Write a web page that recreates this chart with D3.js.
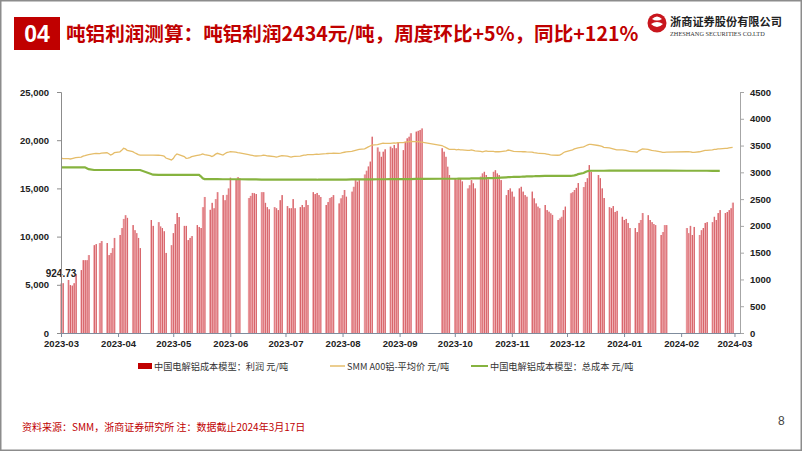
<!DOCTYPE html>
<html>
<head>
<meta charset="utf-8">
<script src="https://cdn.jsdelivr.net/npm/d3@7"></script>
<style>
  html, body { margin: 0; padding: 0; background: #fff; }
  svg { display: block; }
  text { font-family: "Noto Sans CJK SC", "Liberation Sans", sans-serif; }
</style>
</head>
<body>
<div id="chart"></div>
<script>
// trading days: weekdays from first to last day, minus these holidays
const firstDay = '2023-03-16';
const lastDay = '2024-03-15';
const holidays = [
  '2023-04-05', '2023-05-01', '2023-05-02', '2023-05-03', '2023-06-22', '2023-06-23',
  '2023-09-29', '2023-10-02', '2023-10-03', '2023-10-04', '2023-10-05', '2023-10-06',
  '2024-01-01', '2024-02-09', '2024-02-12', '2024-02-13', '2024-02-14', '2024-02-15', '2024-02-16'
];

const xTickLabels = ['2023-03', '2023-04', '2023-05', '2023-06', '2023-07', '2023-08', '2023-09',
  '2023-10', '2023-11', '2023-12', '2024-01', '2024-02', '2024-03'];
const leftTicks = [0, 5000, 10000, 15000, 20000, 25000];
const rightTicks = [0, 500, 1000, 1500, 2000, 2500, 3000, 3500, 4000, 4500];

// 中国电解铝成本模型：利润 元/吨 (right axis), one value per trading day, a row per week
const profit = [
  925, 930,
  990, 895, 885, 930, 1100,
  1175, 1360, 1360, 1360, 1455,
  1640, 1660, 1680, 1717,
  1680, 1455, 1495, 1585, 1775,
  1830, 1960, 2130, 2200, 2150,
  2015, 1920, 1865, 1775, 1585,
  2110, 2000,
  2070, 1990, 1960, 1900, 1495,
  1640, 1865, 2035, 2240, 2165,
  2000, 2000, 1735, 1775, 1810,
  2015, 1980, 1960, 2350, 2540,
  2300, 2430, 2330, 2500, 2630,
  2575, 2480, 2580, 2700, 2900,
  2860, 2910, 2890,
  2520, 2560, 2615, 2610, 2595,
  2630, 2630, 2430, 2350, 2310,
  2350, 2330, 2295, 2480, 2575,
  2370, 2330, 2330, 2500, 2330,
  2350, 2390, 2350, 2480, 2390,
  2630, 2595, 2615, 2575, 2540,
  2390, 2445, 2520, 2540, 2575,
  2420, 2515, 2575, 2670, 2545,
  2640, 2730, 2855, 2825, 2855,
  2960, 3030, 3110, 3200, 3665,
  3465, 3385, 3290, 3385, 3430,
  3480, 3450, 3510, 3450, 3560,
  3415, 3570, 3635, 3665, 3730,
  3760, 3775, 3790, 3820,
  3450, 3385, 3290, 3105, 2950,
  2890, 2860, 2880, 2890, 2830,
  2700, 2760, 2855, 2795, 2700,
  2920, 2980, 3010, 2950, 2870,
  3010, 3040, 2980, 2950, 2855,
  2575, 2670, 2700, 2640, 2545,
  2700, 2730, 2640, 2575, 2545,
  2640, 2515, 2420, 2360, 2330,
  2390, 2295, 2265, 2235, 2205,
  2110, 2140, 2170, 2295, 2360,
  2610, 2630, 2670, 2710, 2800,
  2725, 2820, 2890, 3135, 3010,
  2950, 2890, 2700, 2520,
  2350, 2330, 2370, 2260, 2280,
  2170, 2110, 2130, 2055, 1960,
  1960, 1885, 2055, 2110, 2240,
  2200, 2110, 2070, 2035, 2015,
  1830, 1885, 2015, 2015,
  1960, 1865, 2000, 1830, 1980,
  1830, 1920, 1960, 2055, 2070,
  2070, 2170, 2110, 2240, 2295,
  2240, 2260, 2295, 2330, 2434
];

// SMM A00铝-平均价 元/吨 (left axis)
const price = [
  18120, 18100,
  18080, 18050, 18100, 18150, 18200,
  18250, 18350, 18400, 18460, 18500,
  18600, 18620, 18600, 18650,
  18700, 18600, 18460, 18550, 18700,
  18800, 18950, 19160, 19100, 18950,
  18810, 18700, 18600, 18500, 18460,
  18460, 18460,
  18440, 18420, 18400, 18360, 18150,
  17950, 18100, 18400, 18570, 18500,
  18300, 18120, 18150, 18200, 18300,
  18420, 18460, 18500, 18570, 18500,
  18400, 18300, 18400, 18550, 18640,
  18460, 18600, 18700, 18750, 18810,
  18760, 18700, 18680,
  18500, 18460, 18420, 18380, 18360,
  18400, 18460, 18420, 18380, 18360,
  18300, 18250, 18300, 18360, 18400,
  18350, 18300, 18250, 18300, 18320,
  18350, 18400, 18450, 18460, 18500,
  18500, 18520, 18540, 18530, 18560,
  18600, 18620, 18640, 18640, 18650,
  18640, 18650, 18700, 18750, 18800,
  18850, 18900, 18950, 19000, 19050,
  19100, 19200, 19300, 19400, 19500,
  19550, 19600, 19650, 19700, 19680,
  19680, 19700, 19720, 19700, 19750,
  19750, 19800, 19820, 19850, 19870,
  19850, 19850, 19820, 19800,
  19450, 19350, 19250, 19150, 19050,
  19050, 19000, 19050, 19000, 19000,
  18950, 18950, 19000, 18950, 18900,
  18850, 18800, 18850, 18900, 18850,
  18850, 18800, 18820, 18800, 18810,
  18900, 18980, 18950, 18900, 18850,
  18820, 18810, 18800, 18800, 18780,
  18760, 18700, 18680, 18650, 18640,
  18600, 18560, 18520, 18480, 18460,
  18440, 18460, 18550, 18700, 18800,
  18950, 19000, 19100, 19150, 19200,
  19300, 19400, 19500, 19570, 19560,
  19450, 19400, 19350, 19250,
  19200, 19150, 19100, 19050, 19000,
  19000, 18980, 18950, 18900, 18850,
  18800, 18750, 18900, 19000, 19090,
  19050, 19000, 18950, 18920, 18900,
  18800, 18740, 18740, 18760,
  18800, 18800, 18780, 18750, 18740,
  18800, 18850, 18900, 18950, 18950,
  19000, 19050, 19050, 19100, 19100,
  19150, 19160, 19200, 19230, 19260
];

// 中国电解铝成本模型：总成本 元/吨 (left axis)
const cost = [
  17190, 17190,
  17190, 17190, 17190, 17190, 17190,
  17190, 17190, 17190, 17100, 17000,
  16910, 16910, 16910, 16910,
  16910, 16910, 16910, 16910, 16910,
  16910, 16910, 16910, 16910, 16910,
  16910, 16910, 16910, 16910, 16910,
  16500, 16420,
  16400, 16400, 16400, 16400, 16400,
  16400, 16400, 16400, 16400, 16400,
  16400, 16400, 16400, 16400, 16400,
  16400, 16400, 16250, 16050, 15970,
  15970, 15970, 15970, 15960, 15960,
  15950, 15950, 15950, 15950, 15950,
  15950, 15950, 15950,
  15930, 15930, 15930, 15930, 15930,
  15910, 15910, 15910, 15910, 15910,
  15910, 15910, 15910, 15910, 15910,
  15900, 15900, 15900, 15900, 15900,
  15900, 15900, 15900, 15900, 15900,
  15900, 15900, 15900, 15910, 15910,
  15920, 15920, 15920, 15920, 15920,
  15920, 15920, 15920, 15920, 15920,
  15930, 15930, 15930, 15930, 15930,
  15940, 15940, 15940, 15940, 15940,
  15950, 15950, 15950, 15950, 15950,
  15960, 15960, 15960, 15960, 15960,
  15970, 15970, 15970, 15970, 15970,
  15980, 15980, 15980, 15980,
  16000, 16000, 16000, 16000, 16000,
  16000, 16000, 16010, 16010, 16010,
  16020, 16020, 16030, 16030, 16030,
  16040, 16040, 16050, 16050, 16060,
  16070, 16080, 16090, 16100, 16110,
  16150, 16160, 16170, 16180, 16190,
  16200, 16210, 16220, 16230, 16240,
  16250, 16260, 16270, 16280, 16280,
  16290, 16290, 16290, 16290, 16290,
  16300, 16300, 16300, 16300, 16300,
  16300, 16320, 16350, 16400, 16480,
  16600, 16700, 16780, 16820,
  16830, 16830, 16830, 16830, 16830,
  16840, 16840, 16840, 16840, 16840,
  16840, 16840, 16840, 16840, 16840,
  16840, 16840, 16840, 16840, 16840,
  16840, 16840, 16840, 16840,
  16840, 16840, 16840, 16840, 16840,
  16830, 16830, 16830, 16830, 16830,
  16830, 16830, 16830, 16830, 16830,
  16820, 16820, 16820, 16820, 16820
];

const W = 802, H = 451;
const parseDay = d3.timeParse('%Y-%m-%d');
const fmtDay = d3.timeFormat('%Y-%m-%d');

// build the list of trading days
const days = d3.timeDay.range(parseDay(firstDay), d3.timeDay.offset(parseDay(lastDay), 1))
  .filter(d => d.getDay() !== 0 && d.getDay() !== 6 && !holidays.includes(fmtDay(d)));

const rows = days.map((d, i) => ({ date: d, profit: profit[i], price: price[i], cost: cost[i] }))
  .filter(r => r.profit != null);

const svg = d3.select('#chart').append('svg')
  .attr('width', W).attr('height', H);

// page frame
svg.append('rect')
  .attr('x', 0.75).attr('y', 0.75).attr('width', W - 1.5).attr('height', H - 1.5)
  .attr('fill', 'none').attr('stroke', '#8c8c8c').attr('stroke-width', 1.5);

// header
svg.append('rect').attr('x', 14).attr('y', 17).attr('width', 46).attr('height', 33).attr('fill', '#c00000');
svg.append('text').attr('x', 37).attr('y', 42).attr('text-anchor', 'middle')
  .attr('fill', '#fff').attr('font-size', 23).attr('font-weight', 'bold')
  .style('font-family', '"Liberation Sans", sans-serif')
  .text('04');
svg.append('text').attr('x', 66).attr('y', 41)
  .attr('fill', '#c00000').attr('font-size', 19.6).attr('font-weight', 'bold')
  .text('吨铝利润测算：吨铝利润2434元/吨，周度环比+5%，同比+121%');

// logo
const logo = svg.append('g').attr('transform', 'translate(657,23)');
logo.append('circle').attr('r', 9.5).attr('fill', '#c8161d');
logo.append('path').attr('d', 'M-5,-4 Q0,-9 5,-4 Q0,-1 -5,-4 Z M-6,1 Q0,-3 6,1 Q0,7 -6,1 Z')
  .attr('fill', '#fff');
svg.append('text').attr('x', 670).attr('y', 26)
  .attr('fill', '#222').attr('font-size', 11.2).attr('font-weight', 'bold')
  .text('浙商证券股份有限公司');
svg.append('text').attr('x', 670).attr('y', 35.5)
  .attr('fill', '#333').attr('font-size', 6.3)
  .style('font-family', '"Liberation Serif", serif')
  .text('ZHESHANG SECURITIES CO.LTD');

// scales
const x = d3.scaleTime()
  .domain([parseDay('2023-03-16'), parseDay('2024-03-19')])
  .range([61, 740]);
const yL = d3.scaleLinear().domain([0, 25000]).range([333, 92]);
const yR = d3.scaleLinear().domain([0, 4500]).range([333, 92]);

// bars: pale body with a darker edge, like the thin excel columns
const bars = svg.append('g').selectAll('g')
  .data(rows)
  .join('g');
bars.append('rect')
    .attr('x', d => x(d.date) - 0.8)
    .attr('y', d => yR(d.profit))
    .attr('width', 1.6)
    .attr('height', d => yR(0) - yR(d.profit))
    .attr('fill', '#eb9ca0');
bars.append('rect')
    .attr('x', d => x(d.date) + 0.3)
    .attr('y', d => yR(d.profit))
    .attr('width', 0.5)
    .attr('height', d => yR(0) - yR(d.profit))
    .attr('fill', '#c42a33');

// lines
const priceLine = d3.line().x(d => x(d.date)).y(d => yL(d.price));
const costLine = d3.line().x(d => x(d.date)).y(d => yL(d.cost));
svg.append('path').datum(rows).attr('d', priceLine)
  .attr('fill', 'none').attr('stroke', '#e5bd6a').attr('stroke-width', 1.3);
svg.append('path').datum(rows).attr('d', costLine)
  .attr('fill', 'none').attr('stroke', '#86b33f').attr('stroke-width', 2.2);

// first value label
svg.append('text')
  .attr('x', x(rows[0].date)).attr('y', yR(rows[0].profit) - 6)
  .attr('text-anchor', 'middle').attr('font-size', 10).attr('font-weight', 'bold')
  .attr('fill', '#222').style('font-family', '"Liberation Sans", sans-serif')
  .text(d3.format('.2f')(924.73));

// axes
const axisFont = g => g.selectAll('text')
  .attr('fill', '#222').attr('font-size', 9.5).attr('font-weight', 'bold')
  .style('font-family', '"Liberation Sans", sans-serif');

const gl = svg.append('g').attr('transform', 'translate(61,0)')
  .call(d3.axisLeft(yL).tickValues(leftTicks).tickFormat(d3.format(',')).tickSize(4).tickPadding(8));
gl.call(axisFont);
gl.selectAll('path, line').attr('stroke', '#8c8c8c');

const gr = svg.append('g').attr('transform', 'translate(740,0)')
  .call(d3.axisRight(yR).tickValues(rightTicks).tickFormat(d3.format('d')).tickSize(4).tickPadding(6));
gr.call(axisFont);
gr.selectAll('path, line').attr('stroke', '#a6a6a6');

const xTicks = xTickLabels.map(s => parseDay(s + '-16'));
const gx = svg.append('g').attr('transform', 'translate(0,333)')
  .call(d3.axisBottom(x).tickValues(xTicks).tickFormat((d, i) => xTickLabels[i]).tickSize(4).tickSizeOuter(0).tickPadding(3));
gx.call(axisFont);
gx.selectAll('path, line').attr('stroke', '#7f8c9d');

// legend
const lg = svg.append('g').attr('font-size', 9.2).attr('fill', '#333');
lg.append('rect').attr('x', 138).attr('y', 363).attr('width', 14).attr('height', 6).attr('fill', '#c00000');
lg.append('text').attr('x', 154).attr('y', 370).text('中国电解铝成本模型：利润 元/吨');
lg.append('line').attr('x1', 330).attr('x2', 345).attr('y1', 366).attr('y2', 366)
  .attr('stroke', '#e5bd6a').attr('stroke-width', 1.5);
lg.append('text').attr('x', 347).attr('y', 370).text('SMM A00铝-平均价 元/吨');
lg.append('line').attr('x1', 471).attr('x2', 488).attr('y1', 366).attr('y2', 366)
  .attr('stroke', '#86b33f').attr('stroke-width', 2);
lg.append('text').attr('x', 490).attr('y', 370).text('中国电解铝成本模型：总成本 元/吨');

// footer
svg.append('text').attr('x', 22).attr('y', 431)
  .attr('fill', '#c00000').attr('font-size', 10)
  .text('资料来源：SMM，浙商证券研究所 注：数据截止2024年3月17日');
svg.append('text').attr('x', 778).attr('y', 425)
  .attr('fill', '#444').attr('font-size', 12)
  .style('font-family', '"Liberation Sans", sans-serif')
  .text('8');
</script>
</body>
</html>
